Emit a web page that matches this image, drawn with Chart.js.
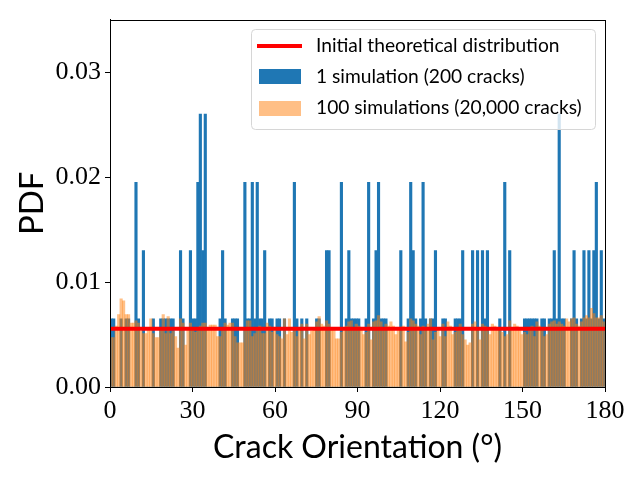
<!DOCTYPE html>
<html>
<head>
<meta charset="utf-8">
<script src="https://cdn.jsdelivr.net/npm/chart.js"></script>
<style>
  html, body { margin: 0; padding: 0; background: #fff; }
  canvas { display: block; }
</style>
</head>
<body>
<canvas id="histChart" width="640" height="480"></canvas>
<script>
// histogram bins: 200 bins of 0.9 degrees over 0..180
var binCount = 200;
var binWidth = 0.9;
var xTicks = [0, 30, 60, 90, 120, 150, 180];
var yTicks = [0.00, 0.01, 0.02, 0.03];
var theoreticalPdf = 0.00556;

// PDF of 1 simulation (200 cracks), read bin by bin
var singleSim = [
  0.0065, 0.0065, 0, 0, 0.0065, 0, 0.0065, 0.0065, 0, 0,
  0.0195, 0.0065, 0, 0.013, 0, 0, 0, 0.0065, 0, 0,
  0.0065, 0.0065, 0.0065, 0.0065, 0.0065, 0.0065, 0, 0, 0.013, 0.0065,
  0, 0, 0.013, 0.0065, 0.0065, 0.0195, 0.026, 0.013, 0.026, 0,
  0, 0, 0, 0, 0.0065, 0.013, 0.0065, 0, 0, 0.0065,
  0.0065, 0.0065, 0, 0, 0.0195, 0.0065, 0.0065, 0.0195, 0.0065, 0.0195,
  0.0065, 0.0065, 0.013, 0, 0.0065, 0.0065, 0, 0.0065, 0.0065, 0,
  0.0065, 0, 0, 0, 0.0195, 0.0065, 0, 0.0065, 0, 0.0065,
  0, 0, 0, 0.0065, 0.0065, 0, 0, 0.013, 0.013, 0,
  0, 0, 0, 0.0195, 0, 0.0065, 0.013, 0.0065, 0.0065, 0.0065,
  0.0065, 0, 0, 0.0065, 0.0195, 0, 0.0065, 0.013, 0.0195, 0.0065,
  0.0065, 0.0065, 0, 0, 0, 0, 0, 0.013, 0, 0,
  0.0065, 0.0195, 0.013, 0.0065, 0, 0.0065, 0.0195, 0.0065, 0, 0.0065,
  0.0065, 0.013, 0, 0, 0.0065, 0.0065, 0, 0, 0, 0.0065,
  0.0065, 0.0065, 0.013, 0, 0, 0, 0.013, 0, 0.013, 0,
  0.013, 0.0065, 0.013, 0, 0, 0, 0, 0.0065, 0, 0.0195,
  0, 0.013, 0, 0, 0, 0, 0, 0.0065, 0.0065, 0.0065,
  0.0065, 0.0065, 0.0065, 0, 0.0065, 0.0065, 0, 0.0065, 0.0065, 0.013,
  0.0065, 0.026, 0.0065, 0.0065, 0, 0, 0.0065, 0.013, 0.0065, 0,
  0.0065, 0.013, 0.0065, 0.013, 0.0065, 0.013, 0.0195, 0.0065, 0.013, 0.0065
];

// PDF of 100 simulations (20,000 cracks)
var hundredSims = [
  0.0047, 0.0047, 0.0058, 0.0069, 0.0084, 0.0082, 0.0069, 0.0069, 0.0061, 0.0061,
  0.0063, 0.0061, 0.0053, 0.0051, 0.0051, 0.0056, 0.0065, 0.0051, 0.0047, 0.0047,
  0.0056, 0.0069, 0.0051, 0.0067, 0.0051, 0.0053, 0.0048, 0.0037, 0.0065, 0.0061,
  0.0040, 0.0054, 0.0061, 0.0055, 0.0052, 0.0055, 0.0058, 0.0061, 0.0061, 0.0054,
  0.0059, 0.0059, 0.0059, 0.0048, 0.0048, 0.0055, 0.0061, 0.0059, 0.0061, 0.0061,
  0.0048, 0.0042, 0.0042, 0.0042, 0.0055, 0.0063, 0.0063, 0.0048, 0.0051, 0.0054,
  0.0058, 0.0051, 0.0051, 0.0061, 0.0058, 0.0052, 0.0055, 0.0050, 0.0048, 0.0046,
  0.0065, 0.0050, 0.0065, 0.0052, 0.0055, 0.0048, 0.0056, 0.0060, 0.0046, 0.0060,
  0.0050, 0.0053, 0.0055, 0.0062, 0.0067, 0.0060, 0.0058, 0.0063, 0.0060, 0.0056,
  0.0054, 0.0046, 0.0046, 0.0052, 0.0055, 0.0058, 0.0062, 0.0063, 0.0055, 0.0060,
  0.0058, 0.0055, 0.0050, 0.0052, 0.0060, 0.0045, 0.0062, 0.0063, 0.0068, 0.0062,
  0.0055, 0.0060, 0.0058, 0.0062, 0.0058, 0.0050, 0.0055, 0.0057, 0.0058, 0.0043,
  0.0052, 0.0065, 0.0063, 0.0060, 0.0058, 0.0050, 0.0058, 0.0055, 0.0060, 0.0065,
  0.0045, 0.0052, 0.0055, 0.0048, 0.0060, 0.0048, 0.0062, 0.0058, 0.0050, 0.0052,
  0.0055, 0.0060, 0.0050, 0.0045, 0.0040, 0.0042, 0.0060, 0.0062, 0.0055, 0.0045,
  0.0060, 0.0058, 0.0055, 0.0050, 0.0060, 0.0058, 0.0054, 0.0056, 0.0052, 0.0048,
  0.0050, 0.0063, 0.0055, 0.0060, 0.0058, 0.0055, 0.0050, 0.0052, 0.0050, 0.0055,
  0.0058, 0.0048, 0.0062, 0.0058, 0.0055, 0.0048, 0.0050, 0.0060, 0.0062, 0.0063,
  0.0060, 0.0062, 0.0060, 0.0058, 0.0065, 0.0062, 0.0065, 0.0066, 0.0060, 0.0058,
  0.0062, 0.0066, 0.0068, 0.0066, 0.0075, 0.0070, 0.0066, 0.0066, 0.0068, 0.0062
];

var legendLabels = [
  'Initial theoretical distribution',
  '1 simulation (200 cracks)',
  '100 simulations (20,000 cracks)'
];

var blueColor = '#1f77b4';
var orangeColor = 'rgba(255, 127, 14, 0.5)';
var serifFont = '"Liberation Serif", "DejaVu Serif", serif';
var sansFont = 'Lato, "Open Sans", sans-serif';

document.addEventListener('DOMContentLoaded', function () {
  var ctx = document.getElementById('histChart').getContext('2d');

  // bin centres on the linear x axis
  var centres = [];
  for (var i = 0; i < binCount; i++) {
    centres.push(i * binWidth + binWidth / 2);
  }
  var toPoints = function (values) {
    return values.map(function (v, i) { return { x: centres[i], y: v }; });
  };

  // full box around the axes, like matplotlib spines
  var framePlugin = {
    id: 'frame',
    afterDatasetsDraw: function (chart) {
      var a = chart.chartArea;
      var c = chart.ctx;
      c.save();
      c.strokeStyle = '#000';
      c.lineWidth = 1;
      c.strokeRect(Math.round(a.left) + 0.5, Math.round(a.top) + 0.5,
        Math.round(a.right - a.left), Math.round(a.bottom - a.top));
      c.restore();
    }
  };

  // legend box in the upper right
  var legendPlugin = {
    id: 'boxLegend',
    afterDraw: function (chart) {
      var c = chart.ctx;
      var x0 = 251.5, y0 = 29.5, w = 344, h = 100, r = 4;
      c.save();
      c.beginPath();
      c.moveTo(x0 + r, y0);
      c.arcTo(x0 + w, y0, x0 + w, y0 + h, r);
      c.arcTo(x0 + w, y0 + h, x0, y0 + h, r);
      c.arcTo(x0, y0 + h, x0, y0, r);
      c.arcTo(x0, y0, x0 + w, y0, r);
      c.closePath();
      c.fillStyle = 'rgba(255,255,255,0.8)';
      c.fill();
      c.strokeStyle = '#d6d6d6';
      c.lineWidth = 1;
      c.stroke();

      c.strokeStyle = '#ff0000';
      c.lineWidth = 4;
      c.beginPath();
      c.moveTo(257, 46);
      c.lineTo(302, 46);
      c.stroke();

      c.fillStyle = blueColor;
      c.fillRect(259, 69, 42, 15);
      c.fillStyle = orangeColor;
      c.fillRect(259, 101, 42, 15);

      c.fillStyle = '#000';
      c.font = '19.2px ' + sansFont;
      c.textBaseline = 'middle';
      c.textAlign = 'left';
      c.fillText(legendLabels[0], 316, 46);
      c.fillText(legendLabels[1], 316, 77);
      c.fillText(legendLabels[2], 316, 108);
      c.restore();
    }
  };

  var myHistChart = new Chart(ctx, {
    type: 'bar',
    data: {
      datasets: [
        {
          type: 'line',
          label: legendLabels[0],
          data: [{ x: 0, y: theoreticalPdf }, { x: 180, y: theoreticalPdf }],
          borderColor: '#ff0000',
          borderWidth: 4,
          pointRadius: 0,
          fill: false,
          order: 0
        },
        {
          label: legendLabels[1],
          data: toPoints(singleSim),
          backgroundColor: blueColor,
          borderWidth: 0,
          barPercentage: 1,
          categoryPercentage: 1,
          grouped: false,
          order: 2
        },
        {
          label: legendLabels[2],
          data: toPoints(hundredSims),
          backgroundColor: orangeColor,
          borderWidth: 0,
          barPercentage: 1,
          categoryPercentage: 1,
          grouped: false,
          order: 1
        }
      ]
    },
    options: {
      responsive: false,
      animation: false,
      devicePixelRatio: 1,
      events: [],
      layout: { padding: { top: 18, right: 35, left: 0, bottom: 0 } },
      plugins: {
        legend: { display: false },
        tooltip: { enabled: false }
      },
      scales: {
        x: {
          type: 'linear',
          min: 0,
          max: 180,
          offset: false,
          afterFit: function (scale) { scale.height = 93; },
          afterBuildTicks: function (scale) {
            scale.ticks = xTicks.map(function (v) { return { value: v }; });
          },
          grid: { drawOnChartArea: false, offset: false, tickLength: 5, tickColor: '#000' },
          border: { display: true, color: '#000', width: 1 },
          ticks: {
            color: '#000',
            padding: 4,
            maxRotation: 0,
            font: { family: serifFont, size: 26 },
            callback: function (v) { return String(v); }
          },
          title: {
            display: true,
            text: 'Crack Orientation (°)',
            color: '#000',
            font: { family: sansFont, size: 32 },
            padding: { top: 0, bottom: 13 }
          }
        },
        y: {
          min: 0,
          max: 0.035,
          afterFit: function (scale) { scale.width = 110; },
          afterBuildTicks: function (scale) {
            scale.ticks = yTicks.map(function (v) { return { value: v }; });
          },
          grid: { drawOnChartArea: false, tickLength: 5, tickColor: '#000' },
          border: { display: true, color: '#000', width: 1 },
          ticks: {
            color: '#000',
            padding: 4,
            font: { family: serifFont, size: 26 },
            callback: function (v) { return v.toFixed(2); }
          },
          title: {
            display: true,
            text: 'PDF',
            color: '#000',
            font: { family: sansFont, size: 33 },
            padding: { top: 13, bottom: 0 }
          }
        }
      }
    },
    plugins: [framePlugin, legendPlugin]
  });
});
</script>
</body>
</html>
